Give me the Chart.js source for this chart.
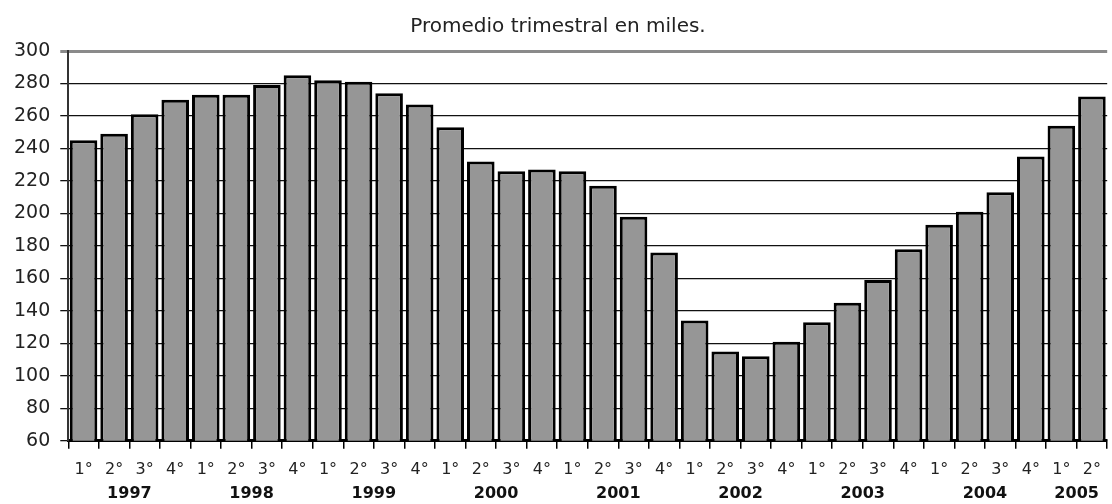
<!DOCTYPE html>
<html>
<head>
<meta charset="utf-8">
<script src="https://cdn.jsdelivr.net/npm/chart.js@4/dist/chart.umd.min.js"></script>
<style>
  html, body { margin: 0; padding: 0; background: #fff; }
  #wrap { width: 1112px; height: 504px; }
</style>
</head>
<body>
<div id="wrap"><canvas id="chart"></canvas></div>
<script>
// data
const years = ["1997", "1998", "1999", "2000", "2001", "2002", "2003", "2004", "2005"];
const quartersPerYear = [4, 4, 4, 4, 4, 4, 4, 4, 2];
const quarterNames = ["1°", "2°", "3°", "4°"];
const values = [
    245, 249, 261, 270, 273, 273, 279, 285, 282, 281, 274, 267,
    253, 232, 226, 227, 226, 217, 198, 176, 134, 115, 112, 121,
    133, 145, 159, 178, 193, 201, 213, 235, 254, 272
];
const yTicks = [60, 80, 100, 120, 140, 160, 180, 200, 220, 240, 260, 280, 300];

// one label per bar, plus where each year group starts / ends
const labels = [];
const yearSpans = [];
years.forEach((y, i) => {
    const start = labels.length;
    for (let q = 0; q < quartersPerYear[i]; q++) labels.push(quarterNames[q]);
    yearSpans.push({ year: y, from: start, to: labels.length - 1 });
});

// year names under the quarter labels
const yearLabels = {
    id: "yearLabels",
    afterDraw(chart) {
        const ctx = chart.ctx;
        const x = chart.scales.x;
        ctx.save();
        ctx.font = "bold 16px 'DejaVu Sans'";
        ctx.fillStyle = "#111";
        ctx.textAlign = "center";
        ctx.textBaseline = "middle";
        for (const s of yearSpans) {
            const px = (x.getPixelForValue(s.from) + x.getPixelForValue(s.to)) / 2;
            ctx.fillText(s.year, px, 494);
        }
        ctx.restore();
    }
};

const ctx = document.querySelector("#chart").getContext("2d");
new Chart(ctx, {
    type: "bar",
    data: {
        labels: labels,
        datasets: [{
            data: values,
            backgroundColor: "#969696",
            borderColor: "#000",
            borderWidth: 3,
            borderSkipped: false,
            barPercentage: 0.96,
            categoryPercentage: 0.94
        }]
    },
    plugins: [yearLabels],
    options: {
        responsive: true,
        maintainAspectRatio: false,
        animation: false,
        layout: { padding: { left: 4, right: 0, top: 0, bottom: 14 } },
        plugins: {
            legend: { display: false },
            tooltip: { enabled: false },
            title: {
                display: true,
                text: "Promedio trimestral en miles.",
                color: "#222",
                font: { family: "'DejaVu Sans'", size: 20, weight: "normal" },
                padding: { top: 15, bottom: 12 }
            }
        },
        scales: {
            x: {
                offset: true,
                grid: {
                    offset: true,
                    drawOnChartArea: false,
                    drawTicks: true,
                    tickLength: 8,
                    color: "#000",
                    lineWidth: 1.5
                },
                border: { display: true, color: "#000", width: 3 },
                ticks: {
                    color: "#222",
                    padding: 11,
                    maxRotation: 0,
                    autoSkip: false,
                    font: { family: "'DejaVu Sans'", size: 16 }
                }
            },
            y: {
                min: yTicks[0],
                max: yTicks[yTicks.length - 1],
                afterBuildTicks: axis => { axis.ticks = yTicks.map(v => ({ value: v })); },
                grid: {
                    color: c => c.tick && c.tick.value === 300 ? "#8a8a8a" : "#111",
                    lineWidth: c => c.tick && c.tick.value === 300 ? 3 : 1.3,
                    tickLength: 8
                },
                border: { display: true, color: "#333", width: 2 },
                ticks: {
                    color: "#222",
                    padding: 10,
                    font: { family: "'DejaVu Sans'", size: 19 }
                }
            }
        }
    }
});
</script>
</body>
</html>
